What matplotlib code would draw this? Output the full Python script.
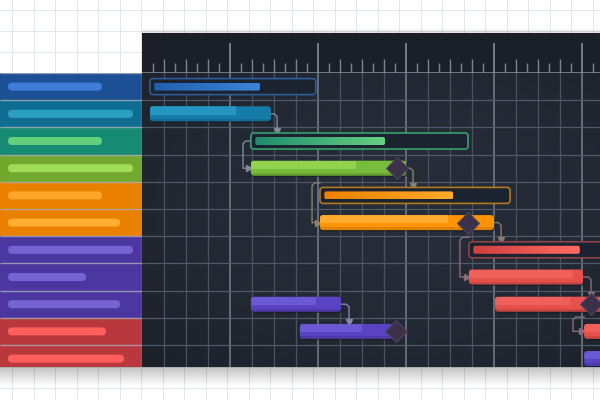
import numpy as np
import matplotlib.pyplot as plt
from matplotlib.patches import FancyBboxPatch
from matplotlib.colors import LinearSegmentedColormap

plt.rcParams["figure.figsize"] = [6, 4]
plt.rcParams["figure.dpi"] = 100

# left label column (one colored row per task line)
label_bg = ["#1c4f93", "#0f6d92", "#168a72", "#72a82e", "#e98000", "#e98000",
            "#4b379f", "#4b379f", "#4b379f", "#b9383d", "#b9383d"]
label_pill = ["#3b7dd8", "#2a9fc2", "#63cf7c", "#a0dc55", "#ffa628", "#ffad2e",
              "#7463d2", "#7463d2", "#7463d2", "#ff5f5c", "#ff5f5c"]
label_len = [102, 133, 102, 133, 102, 120, 133, 86, 120, 106, 124]

# tasks: x in grid columns, row counted from the top
task_row = [0, 1, 2, 3, 4, 5, 6, 7, 8, 8, 9, 9, 10]
task_start = [0.36, 0.36, 4.95, 4.95, 8.09, 8.09, 14.86, 14.86, 4.95, 16.05, 7.18, 20.1, 20.1]
task_end = [7.9, 5.86, 14.82, 12.0, 16.73, 16.0, 22.0, 20.05, 9.05, 22.0, 11.55, 22.0, 22.0]
task_done = [5.36, 4.27, 11.05, 9.73, 14.14, 13.9, 19.9, 19.6, 7.9, 19.45, 10.0, 21.5, 21.5]
task_kind = ["box", "bar", "box", "bar", "box", "bar", "box", "bar", "bar", "bar", "bar", "bar", "bar"]
task_edge = ["#2d5c97", None, "#3aa06a", None, "#b07a22", None, "#8c4448", None, None, None, None, None, None]
task_dark = ["#2160ae", "#157ba8", "#1f8c6e", "#78bc3b", "#ee8200", "#ff9300", "#cf4040",
             "#e8504c", "#5943c2", "#e8504c", "#5943c2", "#e8504c", "#5943c2"]
task_light = ["#3d84da", "#2596c2", "#66d080", "#92d24f", "#ffaa2c", "#ffab2e", "#ff6b62",
              "#f0605a", "#6b58d4", "#f0605a", "#6b58d4", "#f0605a", "#6b58d4"]

# milestones
ms_row = [3, 5, 8, 9]
ms_x = [11.59, 14.82, 20.4, 11.55]

# dependency links leaving a bar end and dropping onto the next row
lr_row = [1, 3, 5, 7, 8]
lr_x = [5.86, 12.0, 16.0, 20.05, 9.05]
lr_elbow = [6.14, 12.32, 16.32, 20.41, 9.41]
lr_color = ["#7e8a99", "#7f8470", "#8a7a6e", "#8c6b75", "#8a84a8"]

# dependency links running down the left side into the next bar
ll_x = [4.95, 8.09, 14.86, 20.1]
ll_elbow = [4.59, 7.73, 14.45, 19.59]
ll_y0 = [2.5, 4.04, 6.04, 8.97]
ll_y1 = [3.5, 5.5, 7.5, 9.5]
ll_color = ["#7e8a99", "#8a806c", "#8c6b75", "#8c6b75"]

ROW_PX = 27.2
COL_PX = 22.0
n_rows = 294 / ROW_PX
n_cols = 458 / COL_PX
ASP = COL_PX / ROW_PX

fig = plt.figure()

# light page background with faint grid
bg = fig.add_axes([0, 0, 1, 1])
bg.set_xlim(0, 600)
bg.set_ylim(400, 0)
bg.set_facecolor("#eef0f3")
for gx in np.arange(12, 600, 21.5):
    bg.axvline(gx, color="#e2e5e9", lw=0.7, zorder=0)
for gy in np.arange(10, 400, 21):
    bg.axhline(gy, color="#e2e5e9", lw=0.7, zorder=0)
shade = np.zeros((30, 2, 4))
shade[..., 3] = np.linspace(0.25, 0, 30)[:, None]
bg.imshow(shade, extent=[0, 600, 386, 366], aspect="auto", zorder=1)
shade2 = np.zeros((10, 2, 4))
shade2[..., 3] = np.linspace(0, 0.12, 10)[:, None]
bg.imshow(shade2, extent=[142, 600, 33, 28], aspect="auto", zorder=1)
bg.set_xlim(0, 600)
bg.set_ylim(400, 0)
bg.axis("off")

# header with time ruler
hd = fig.add_axes([142 / 600, 327 / 400, 458 / 600, 40 / 400])
hd.set_facecolor("#1b2028")
hd.set_xlim(0, n_cols)
hd.set_ylim(0, 40)
for t in np.arange(0.5, n_cols, 0.5):
    if t % 4 == 0:
        hd.vlines(t, 0, 30, color="#8b939e", lw=1.1)
    elif t % 1 == 0:
        hd.vlines(t, 0, 14, color="#7c8591", lw=1)
    else:
        hd.vlines(t, 0, 10, color="#7c8591", lw=1)
hd.axhline(0.5, color="#808994", lw=1.2)
hd.set_xticks([])
hd.set_yticks([])
for s in hd.spines.values():
    s.set_visible(False)

# label column
lab = fig.add_axes([0, 33 / 400, 142 / 600, 294 / 400])
lab.set_xlim(0, 142)
lab.set_ylim(n_rows, 0)
lab.barh(np.arange(len(label_bg)) + 0.5, 142, height=1, color=label_bg, zorder=1)
for i, (c, w) in enumerate(zip(label_pill, label_len)):
    h = 8 / ROW_PX
    lab.add_patch(FancyBboxPatch((8, i + 0.5 - h / 2), w - 8, h,
                                 boxstyle="round,pad=0,rounding_size=4",
                                 mutation_aspect=1 / ROW_PX, fc=c, ec="none", zorder=2))
lab.hlines(np.arange(0, len(label_bg)), 0, 142, color="#a7afba", lw=1, alpha=0.8, zorder=3)
lab.axvline(141.5, color="#8c95a1", lw=1, zorder=3)
lab.axis("off")

# chart body
ax = fig.add_axes([142 / 600, 33 / 400, 458 / 600, 294 / 400])
ax.set_facecolor("#232933")
yy, xx = np.mgrid[0:1:60j, 0:1:90j]
vign = 1 - 0.6 * ((xx - 0.55) ** 2 + (yy - 0.45) ** 2)
ax.imshow(vign, cmap=LinearSegmentedColormap.from_list("v", ["#1b2029", "#262d38"]),
          extent=[0, n_cols, n_rows, 0], aspect="auto", zorder=0)
for c in np.arange(1, n_cols):
    major = c % 4 == 0
    ax.axvline(c, color="#6f7884" if major else "#4a525f", lw=1.2 if major else 0.9, zorder=1)
for r in np.arange(1, 11):
    ax.axhline(r, color="#505966", lw=0.9, zorder=1)


def rbox(x0, x1, yc, h, r=0.14, **kw):
    p = FancyBboxPatch((x0, yc - h / 2), x1 - x0, h,
                       boxstyle=f"round,pad=0,rounding_size={r}",
                       mutation_aspect=ASP, **kw)
    ax.add_patch(p)
    return p


for row, s, e, d, kind, edge, dk, lt in zip(task_row, task_start, task_end, task_done,
                                            task_kind, task_edge, task_dark, task_light):
    yc = row + 0.5
    if kind == "box":
        rbox(s, e, yc, 16 / ROW_PX, fc="#1b2230", ec=edge, lw=1.2, zorder=3)
        h = 8 / ROW_PX
        clip = rbox(s + 0.2, d, yc, h, r=0.09, fc="none", ec="none", zorder=4)
        grad = ax.imshow(np.linspace(0, 1, 128).reshape(1, -1),
                         cmap=LinearSegmentedColormap.from_list("g", [dk, lt]),
                         extent=[s + 0.2, d, yc + h / 2, yc - h / 2], aspect="auto", zorder=4)
        grad.set_clip_path(clip)
    else:
        h = 15 / ROW_PX
        rbox(s + 0.05, e + 0.05, yc + 0.05, h, fc="#11151c", ec="none", alpha=0.5, zorder=2)
        rbox(s, e, yc, h, fc=dk, ec="none", zorder=3)
        clip = rbox(s, e, yc, h, fc="none", ec="none", zorder=4)
        top = ax.fill_between([s, d], yc - h / 2, yc + 0.05 * h, color=lt, lw=0, zorder=4)
        top.set_clip_path(clip)
        shine = ax.fill_between([s, e], yc + 0.32 * h, yc + h / 2, color="black",
                                alpha=0.12, lw=0, zorder=4)
        shine.set_clip_path(clip)

ax.plot(ms_x, np.array(ms_row) + 0.5, "D", ms=11.5, color="#3b3149",
        mec="#4d4460", mew=0.8, zorder=6)

for row, x, ex, c in zip(lr_row, lr_x, lr_elbow, lr_color):
    yc = row + 0.5
    ye = row + 1.15
    ax.plot([x, ex - 0.12, ex, ex], [yc, yc, yc + 0.1, ye - 0.05], color=c, lw=1, zorder=2)
    ax.plot(ex, ye, "v", ms=4, color=c, zorder=2)

for x, ex, y0, y1, c in zip(ll_x, ll_elbow, ll_y0, ll_y1, ll_color):
    ax.plot([x, ex + 0.12, ex, ex, x - 0.12], [y0, y0, y0 + 0.1, y1, y1],
            color=c, lw=1, zorder=2)
    ax.plot(x - 0.1, y1, ">", ms=4, color=c, zorder=2)

ax.set_xlim(0, n_cols)
ax.set_ylim(n_rows, 0)
ax.set_xticks([])
ax.set_yticks([])
for s in ax.spines.values():
    s.set_visible(False)

fig.savefig("out.png", dpi=100)
